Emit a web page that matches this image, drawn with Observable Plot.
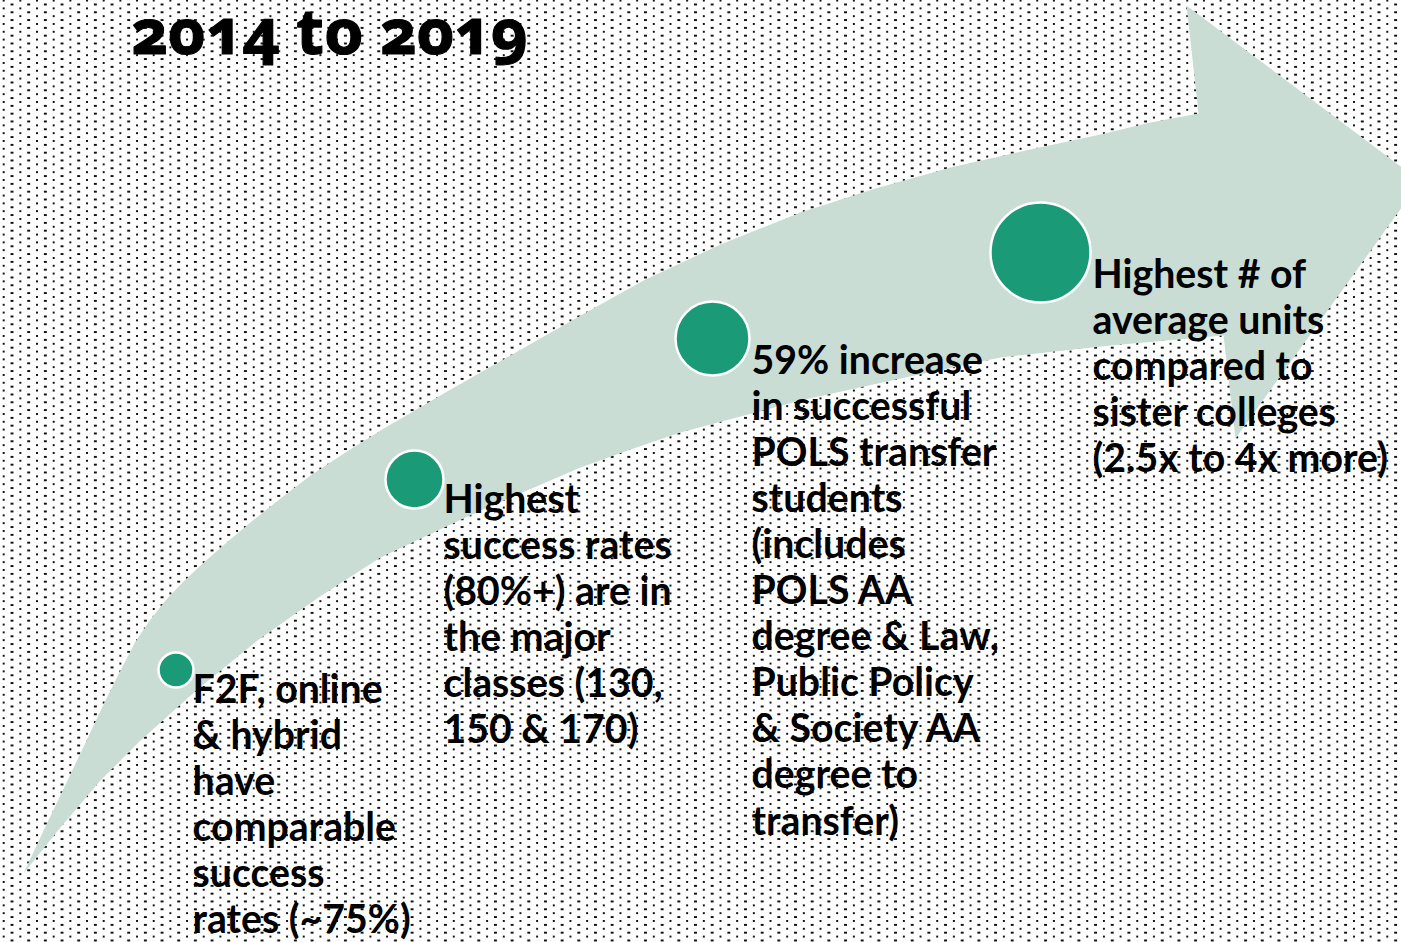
<!DOCTYPE html>
<html>
<head>
<meta charset="utf-8">
<script src="https://cdn.jsdelivr.net/npm/d3@7"></script>
<script src="https://cdn.jsdelivr.net/npm/@observablehq/plot@0.6"></script>
<style>
  html, body { margin: 0; padding: 0; background: #ffffff; }
  #chart { width: 1401px; height: 942px; overflow: hidden; }
  #chart svg { display: block; }
  .title-text { font-feature-settings: "onum" 1; font-variant-numeric: oldstyle-nums; }
</style>
</head>
<body>
<div id="chart"></div>
<script>
// ---- content ----
const titleText = "2014 to 2019";
const stages = [1, 2, 3, 4];
const milestoneText = [
  "F2F, online\n& hybrid\nhave\ncomparable\nsuccess\nrates (~75%)",
  "Highest\nsuccess rates\n(80%+) are in\nthe major\nclasses (130,\n150 & 170)",
  "59% increase\nin successful\nPOLS transfer\nstudents\n(includes\nPOLS AA\ndegree & Law,\nPublic Policy\n& Society AA\ndegree to\ntransfer)",
  "Highest # of\naverage units\ncompared to\nsister colleges\n(2.5x to 4x more)"
];
// diagram coordinates (page space, y down)
const circleX = [175.5, 414, 712, 1040];
const circleY = [669.5, 479, 338, 252];
const circleR = [17.5, 29, 37, 50];
const labelX = [192, 443, 751, 1092];
const labelFirstBaseline = [702, 512, 373, 287];
// arrow outline, clockwise from tail
const arrowX = [23, 45, 67, 86, 105, 120, 135, 150, 165, 182, 200, 225, 250, 280, 310, 345, 380,
                445, 510, 575, 643, 720, 800, 875, 950, 1025, 1100, 1150, 1198,
                1186, 1420, 1235, 1223,
                1110, 1000, 900, 800, 740, 680, 630, 580, 480, 380, 318, 257, 198, 140, 100, 60, 23];
const arrowY = [873, 826, 780, 740, 700, 670, 641, 619, 600, 582, 565, 543, 522, 498, 475, 452, 430,
                392, 355, 318, 280, 244, 212, 188, 167, 150, 134, 122, 113,
                5, 181, 438, 335,
                345, 357, 378, 400, 416, 432, 449, 467, 510, 557, 597, 640, 688, 740, 780, 827, 873];

(async function () {
  try { await document.fonts.load("700 40px Lato"); await document.fonts.load("700 40px 'Noto Sans'"); } catch (e) {}
  const ctx = document.createElement("canvas").getContext("2d");
  const measure = (s, weight, size, fam) => { ctx.font = `${weight} ${size}px ${fam}`; return ctx.measureText(s).width; };

  // fit label font size to the reference line widths
  const fitLines = ["F2F, online", "success rates", "59% increase", "sister colleges", "(2.5x to 4x more)", "degree & Law,"];
  const fitWidths = [187, 228, 231, 244, 302, 248];
  const ratios = fitLines.map((s, i) => fitWidths[i] / measure(s, 700, 100, "Lato"));
  const labelSize = 100 * d3.mean(ratios);
  const lineStep = 46.1;
  const titleSize = 60;

  const arrow = arrowX.map((x, i) => ({x, y: arrowY[i]}));
  const circles = stages.map((s, i) => ({s, x: circleX[i], y: circleY[i], r: circleR[i]}));
  const labels = stages.map((s, i) => {
    const n = milestoneText[i].split("\n").length;
    return {s, text: milestoneText[i], x: labelX[i], y: labelFirstBaseline[i] + (n - 1) * lineStep};
  });

  function dottedBackground(index, scales, values, dims) {
    const g = d3.create("svg:g");
    const p = g.append("defs").append("pattern")
      .attr("id", "dotpat").attr("patternUnits", "userSpaceOnUse")
      .attr("width", 16.67).attr("height", 7.8)
      .attr("patternTransform", "translate(2.7,-0.4)");
    p.append("rect").attr("x", 0).attr("y", 0).attr("width", 2).attr("height", 2).attr("fill", "#111").attr("shape-rendering", "crispEdges");
    p.append("rect").attr("x", 8.33).attr("y", 3.9).attr("width", 2).attr("height", 2).attr("fill", "#111").attr("shape-rendering", "crispEdges");
    g.append("rect").attr("x", 0).attr("y", 0).attr("width", dims.width).attr("height", dims.height).attr("fill", "url(#dotpat)");
    return g.node();
  }

  const chart = Plot.plot({
    width: 1401,
    height: 942,
    margin: 0,
    style: {background: "transparent", overflow: "hidden"},
    x: {domain: [0, 1401], axis: null},
    y: {domain: [0, 942], range: [0, 942], axis: null},
    r: {type: "identity"},
    marks: [
      dottedBackground,
      Plot.line(arrow, {x: "x", y: "y", fill: "#c9ddd5", stroke: "none", curve: "linear"}),
      Plot.dot(circles, {x: "x", y: "y", r: "r", fill: "#1b9a77", stroke: "#ffffff", strokeWidth: 2.5}),
      Plot.text(labels, {
        x: "x", y: "y", text: "text",
        textAnchor: "start", lineAnchor: "bottom",
        lineHeight: lineStep / labelSize,
        fontSize: labelSize, fontWeight: 700,
        fontFamily: "Lato, 'Open Sans', sans-serif",
        fill: "#000000"
      }),
      Plot.text([titleText], {
        x: () => 131, y: () => 53, text: d => d,
        textAnchor: "start", lineAnchor: "bottom",
        fontSize: titleSize, fontWeight: 700,
        fontFamily: "'Noto Sans', Lato, sans-serif",
        className: "title-text",
        fill: "#000000",
        stroke: "#000000", strokeWidth: 1.2
      })
    ]
  });
  document.getElementById("chart").appendChild(chart);

  // scale the title so that it spans the same width as in the reference
  const t = chart.querySelector(".title-text text");
  if (t) {
    const w = t.getComputedTextLength();
    if (w > 0) {
      const size = titleSize * 397 / w;
      chart.querySelector(".title-text").setAttribute("font-size", size);
    }
  }
})();
</script>
</body>
</html>
